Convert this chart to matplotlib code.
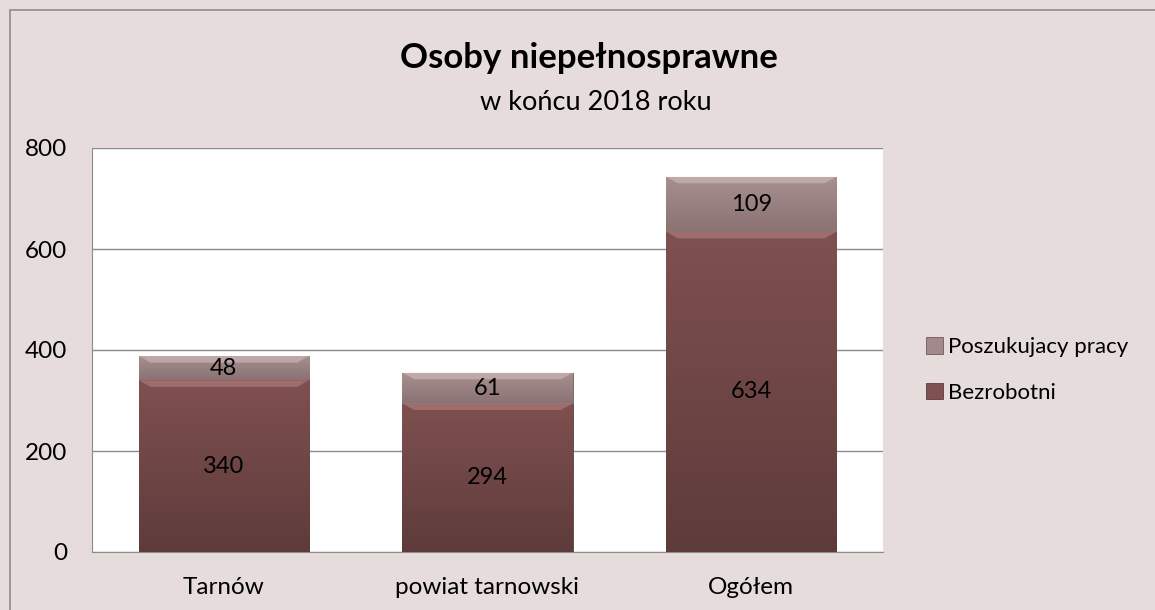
import numpy as np
import matplotlib.pyplot as plt
from matplotlib.patches import Rectangle, Polygon
from matplotlib.colors import LinearSegmentedColormap

kategorie = ['Tarnów', 'powiat tarnowski', 'Ogółem']
bezrobotni = [340, 294, 634]
poszukujacy = [48, 61, 109]
y_ticks = [0, 200, 400, 600, 800]

plt.rcParams['font.family'] = ['Lato', 'DejaVu Sans']

tlo = '#E6DCDC'
kolor_bez = '#7F5151'
kolor_posz = '#A38A8A'

fig = plt.figure(figsize=(11.55, 6.1), dpi=100, facecolor=tlo)
fig.patches.append(Rectangle((10 / 1155, -0.01), 1.02, 1 - 10 / 610 + 0.01,
                             transform=fig.transFigure, fill=False,
                             edgecolor='#8C8C8C', linewidth=1.2))

ax = fig.add_axes([92 / 1155, 1 - 552 / 610, (883 - 92) / 1155, (552 - 148) / 610])
ax.set_facecolor('white')

x = np.arange(len(kategorie))
w = 0.645
s1 = ax.bar(x, bezrobotni, w, color=kolor_bez, edgecolor='#5A3C3C', linewidth=0.6,
            label='Bezrobotni', zorder=3)
s2 = ax.bar(x, poszukujacy, w, bottom=bezrobotni, color=kolor_posz, edgecolor='#6E5A5A',
            linewidth=0.6, label='Poszukujacy pracy', zorder=3)

cm_bez = LinearSegmentedColormap.from_list('bez', ['#5E3B3B', '#7F5050'])
cm_posz = LinearSegmentedColormap.from_list('posz', ['#8A7272', '#A89090'])
grad = np.linspace(0, 1, 256).reshape(-1, 1)


def cieniuj(p, cmap, jasny):
    x0, y0, pw, ph = p.get_x(), p.get_y(), p.get_width(), p.get_height()
    im = ax.imshow(grad, cmap=cmap, origin='lower', aspect='auto',
                   extent=(x0, x0 + pw, y0, y0 + ph), zorder=3.5)
    im.set_clip_path(p)
    # skos na górze segmentu
    d = 13
    dx = 0.045
    ax.add_patch(Polygon([(x0, y0 + ph), (x0 + pw, y0 + ph), (x0 + pw - dx, y0 + ph - d),
                          (x0 + dx, y0 + ph - d)], closed=True, facecolor=jasny,
                         edgecolor='none', alpha=0.5, zorder=3.6))


for p in s1:
    cieniuj(p, cm_bez, '#C08A8A')
for p in s2:
    cieniuj(p, cm_posz, '#D8C4C4')

ax.set_xlim(-0.5, len(kategorie) - 0.5)
ax.set_ylim(0, 800)

for i in range(len(kategorie)):
    ax.text(x[i], bezrobotni[i] / 2, str(bezrobotni[i]), ha='center', va='center',
            fontsize=17, zorder=5)
    ax.text(x[i], bezrobotni[i] + poszukujacy[i] / 2, str(poszukujacy[i]), ha='center',
            va='center', fontsize=17, zorder=5)

ax.set_yticks(y_ticks)
ax.set_xticks(x)
ax.set_xticklabels(kategorie)
ax.tick_params(axis='both', labelsize=17.5, length=0)
ax.tick_params(axis='y', pad=18)
ax.tick_params(axis='x', pad=18)
ax.grid(axis='y', color='#8C8C8C', linewidth=1, zorder=0)
for s in ['top', 'right']:
    ax.spines[s].set_visible(False)
ax.spines['left'].set_color('#8C8C8C')
ax.spines['bottom'].set_color('#8C8C8C')

fig.text(589 / 1155, 1 - 58 / 610, 'Osoby niepełnosprawne', ha='center', va='center',
         fontsize=25, fontweight='bold')
fig.text(596 / 1155, 1 - 103 / 610, 'w końcu 2018 roku', ha='center', va='center',
         fontsize=19.5)

h, l = ax.get_legend_handles_labels()
fig.legend(h[::-1], l[::-1], loc='center left', bbox_to_anchor=(906 / 1155, 1 - 370 / 610),
           frameon=False, fontsize=16, handlelength=0.75, handleheight=0.75,
           handletextpad=0.25, labelspacing=1.15)

plt.savefig('out.png', dpi=100, facecolor=tlo)
